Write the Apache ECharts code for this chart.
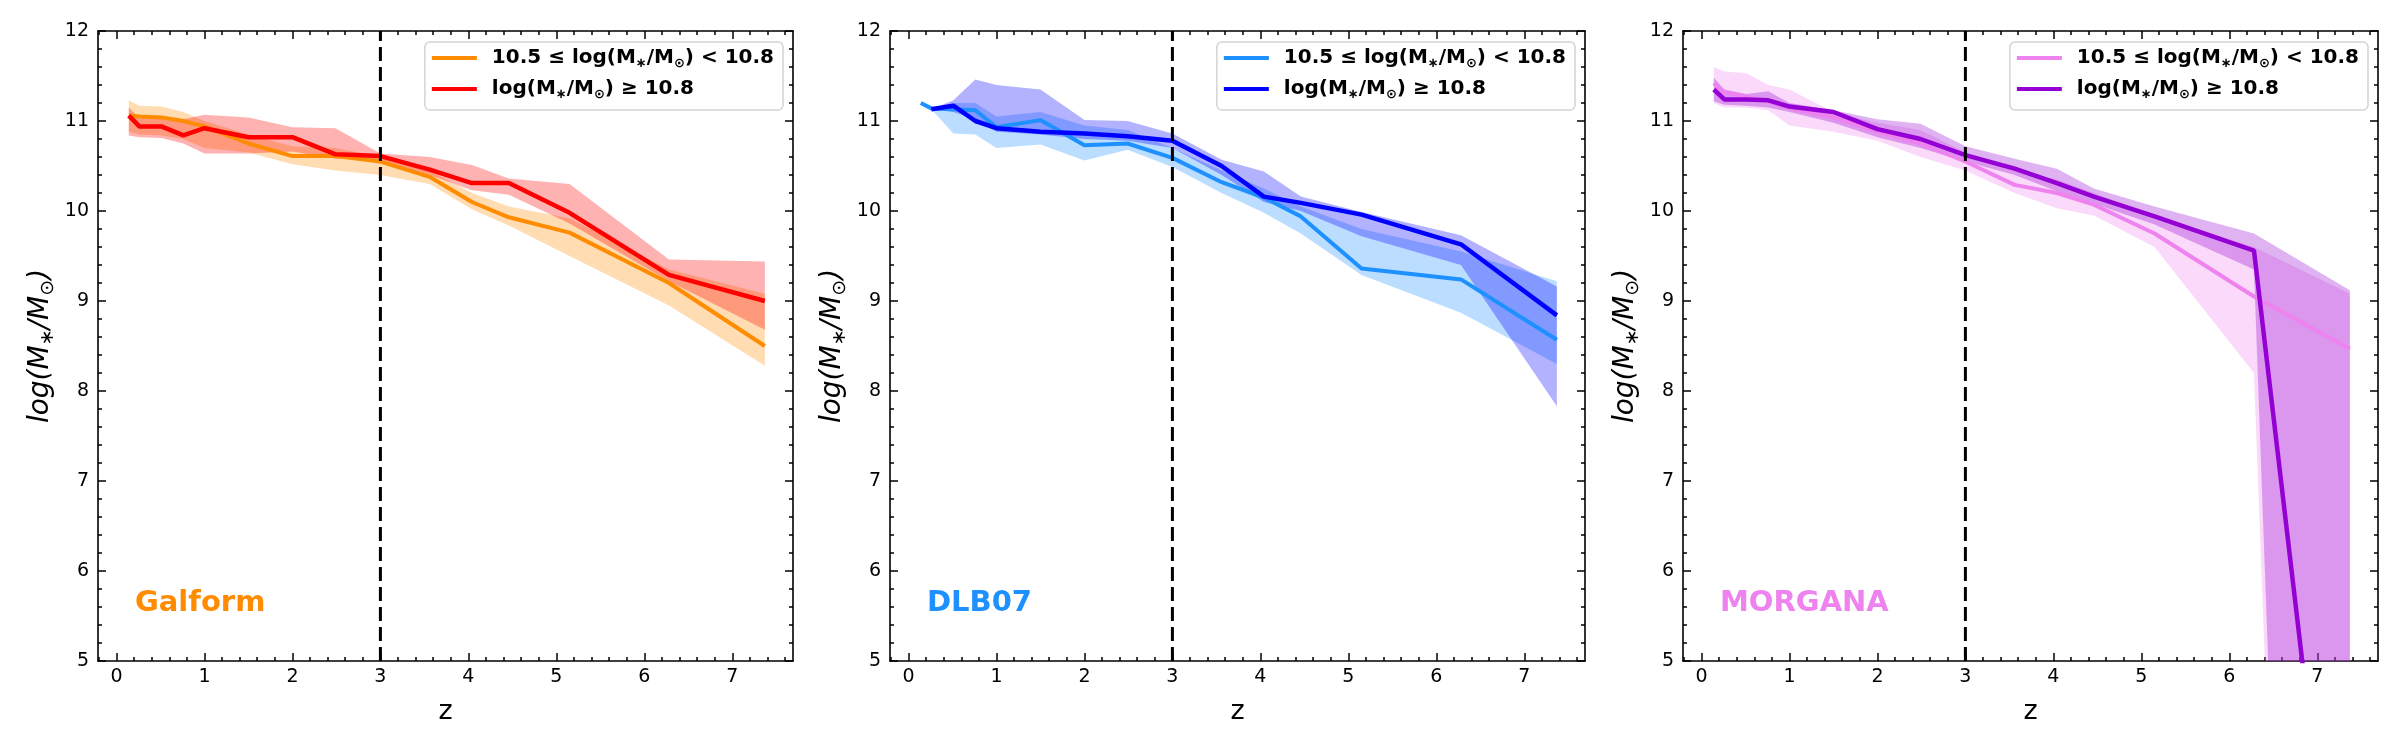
<!DOCTYPE html>
<html>
<head>
<meta charset="utf-8">
<script src="https://cdn.jsdelivr.net/npm/echarts@6/dist/echarts.min.js"></script>
<style>
  html, body { margin: 0; padding: 0; background: #fff; }
  #chart { width: 2400px; height: 750px; }
</style>
</head>
<body>
<div id="chart"></div>
<script>
// redshift snapshots shared by the three models
const Z = [0.14, 0.26, 0.51, 0.76, 1.0, 1.5, 2.0, 2.49, 3.0, 3.56, 4.04, 4.46, 5.15, 6.28, 7.37];

// Galform
const galformMid = [11.06, 11.05, 11.04, 11.0, 10.94, 10.75, 10.61, 10.61, 10.55, 10.38, 10.1, 9.93, 9.76, 9.2, 8.5];
const galformMidHi = [11.23, 11.17, 11.16, 11.1, 11.0, 10.85, 10.72, 10.7, 10.6, 10.45, 10.2, 10.05, 9.92, 9.35, 9.08];
const galformMidLo = [10.88, 10.85, 10.84, 10.8, 10.7, 10.65, 10.52, 10.45, 10.4, 10.3, 10.02, 9.84, 9.5, 8.95, 8.28];
const galformHigh = [11.06, 10.94, 10.94, 10.84, 10.92, 10.82, 10.82, 10.63, 10.61, 10.46, 10.31, 10.31, 9.98, 9.29, 9.0];
const galformHighHi = [11.15, 11.03, 11.03, 11.02, 11.07, 11.04, 10.93, 10.92, 10.64, 10.6, 10.51, 10.36, 10.3, 9.46, 9.44];
const galformHighLo = [10.84, 10.82, 10.81, 10.75, 10.64, 10.64, 10.66, 10.58, 10.57, 10.4, 10.23, 10.18, 9.86, 9.22, 8.68];

// DLB07
const dlbMid = [11.2, 11.14, 11.13, 11.12, 10.93, 11.01, 10.73, 10.75, 10.59, 10.32, 10.15, 9.94, 9.36, 9.24, 8.57];
const dlbMidHi = [null, 11.14, 11.2, 11.2, 11.05, 11.1, 10.95, 10.9, 10.7, 10.45, 10.25, 10.05, 9.8, 9.55, 9.22];
const dlbMidLo = [null, 11.13, 10.86, 10.85, 10.7, 10.74, 10.56, 10.68, 10.49, 10.2, 9.98, 9.75, 9.29, 8.87, 8.3];
const dlbHigh = [null, 11.13, 11.17, 11.0, 10.92, 10.88, 10.86, 10.83, 10.78, 10.5, 10.16, 10.09, 9.96, 9.63, 8.84];
const dlbHighHi = [null, 11.13, 11.23, 11.46, 11.4, 11.35, 11.01, 11.0, 10.86, 10.57, 10.44, 10.16, 9.99, 9.73, 9.16];
const dlbHighLo = [null, 11.13, 11.1, 11.02, 10.88, 10.85, 10.8, 10.78, 10.7, 10.4, 10.1, 10.0, 9.72, 9.4, 7.83];

// MORGANA
const morganaMid = [11.42, 11.32, 11.27, 11.22, 11.14, 11.04, 10.88, 10.75, 10.55, 10.29, 10.2, 10.07, 9.75, 9.05, 8.47];
const morganaMidHi = [11.6, 11.55, 11.53, 11.4, 11.35, 11.1, 10.98, 10.9, 10.65, 10.45, 10.35, 10.2, 9.95, 9.6, 9.08];
const morganaMidLo = [11.2, 11.15, 11.15, 11.12, 10.95, 10.88, 10.78, 10.6, 10.45, 10.2, 10.03, 9.95, 9.6, 8.2, -20];
const morganaHigh = [11.35, 11.24, 11.24, 11.23, 11.16, 11.1, 10.91, 10.8, 10.62, 10.47, 10.31, 10.16, 9.94, 9.56, 0.5];
const morganaHighHi = [11.48, 11.35, 11.3, 11.33, 11.2, 11.12, 11.02, 10.97, 10.72, 10.58, 10.47, 10.25, 10.05, 9.75, 9.12];
const morganaHighLo = [11.22, 11.18, 11.17, 11.15, 11.1, 10.98, 10.82, 10.7, 10.55, 10.4, 10.22, 10.08, 9.85, 9.35, -20];

const zCut = [[3, 5], [3, 12]];
const xTicks = [0, 1, 2, 3, 4, 5, 6, 7];
const X_MIN = -0.21, X_MAX = 7.69;
const Y_MIN = 5, Y_MAX = 12;

const LABEL_MID = '10.5 ≤ log(M∗/M⊙) < 10.8';
const LABEL_HIGH = 'log(M∗/M⊙) ≥ 10.8';
const FONT = 'DejaVu Sans';

const panels = [
  { title: 'Galform', cMid: '#ff8c00', cHigh: '#ff0000', mid: galformMid, midHi: galformMidHi, midLo: galformMidLo, high: galformHigh, highHi: galformHighHi, highLo: galformHighLo },
  { title: 'DLB07', cMid: '#1e90ff', cHigh: '#0000ff', mid: dlbMid, midHi: dlbMidHi, midLo: dlbMidLo, high: dlbHigh, highHi: dlbHighHi, highLo: dlbHighLo },
  { title: 'MORGANA', cMid: '#ee82ee', cHigh: '#9400d3', mid: morganaMid, midHi: morganaMidHi, midLo: morganaMidLo, high: morganaHigh, highHi: morganaHighHi, highLo: morganaHighLo }
];
const gridLefts = [98, 890, 1683];
const GRID_TOP = 31, GRID_W = 695, GRID_H = 630;

const minorX = [];
for (let k = -1; k <= 38; k++) {
  const v = Math.round(k * 2) / 10;
  if (k % 5 !== 0 && v > X_MIN && v < X_MAX) minorX.push(v);
}

const pairs = (vals) => Z.map((z, i) => [z, vals[i]]).filter(p => p[1] !== null);

function band(gi, lo, hi, color) {
  return {
    type: 'custom', xAxisIndex: gi * 4, yAxisIndex: gi * 2, clip: true, silent: true, z: 1,
    data: [[Z[0], Y_MIN]],
    renderItem: (params, api) => {
      const pts = [];
      for (let i = 0; i < Z.length; i++) if (hi[i] !== null) pts.push(api.coord([Z[i], hi[i]]));
      for (let i = Z.length - 1; i >= 0; i--) if (lo[i] !== null) pts.push(api.coord([Z[i], lo[i]]));
      return { type: 'polygon', shape: { points: pts }, style: { fill: color, opacity: 0.3 } };
    }
  };
}

const richText = {
  b: { fontSize: 20, fontWeight: 'bold', fontFamily: FONT, color: '#000', lineHeight: 24 },
  s: { fontSize: 13, fontWeight: 'bold', fontFamily: FONT, color: '#000', lineHeight: 24, verticalAlign: 'bottom' }
};
const legendRich = (name) => name.startsWith('10.5')
  ? '{b|10.5 ≤ log(M}{s|∗}{b|/M}{s|⊙}{b|) < 10.8}'
  : '{b|log(M}{s|∗}{b|/M}{s|⊙}{b|) ≥ 10.8}';

const grid = [], xAxis = [], yAxis = [], series = [], legend = [], graphic = [];
const tickStyle = { color: '#000', width: 1.5 };

panels.forEach((p, gi) => {
  grid.push({ left: gridLefts[gi], top: GRID_TOP, width: GRID_W, height: GRID_H });
  const xBase = { type: 'value', gridIndex: gi, min: X_MIN, max: X_MAX, splitLine: { show: false } };
  xAxis.push(Object.assign({}, xBase, {
    position: 'bottom',
    name: 'z', nameLocation: 'middle', nameGap: 37,
    nameTextStyle: { fontSize: 27, fontFamily: FONT, color: '#000' },
    axisLine: { show: true, onZero: false, lineStyle: { color: '#000', width: 1.6 } },
    axisTick: { show: true, inside: true, length: 8, customValues: xTicks, lineStyle: tickStyle },
    axisLabel: { show: true, customValues: xTicks, margin: 7, fontSize: 19, fontFamily: FONT, color: '#000' }
  }));
  xAxis.push(Object.assign({}, xBase, {
    position: 'bottom',
    axisLine: { show: false, onZero: false },
    axisTick: { show: true, inside: true, length: 4, customValues: minorX, lineStyle: tickStyle },
    axisLabel: { show: false }
  }));
  xAxis.push(Object.assign({}, xBase, {
    position: 'top',
    axisLine: { show: true, onZero: false, lineStyle: { color: '#000', width: 1.6 } },
    axisTick: { show: true, inside: true, length: 8, customValues: xTicks, lineStyle: tickStyle },
    axisLabel: { show: false }
  }));
  xAxis.push(Object.assign({}, xBase, {
    position: 'top',
    axisLine: { show: false, onZero: false },
    axisTick: { show: true, inside: true, length: 4, customValues: minorX, lineStyle: tickStyle },
    axisLabel: { show: false }
  }));
  const yBase = {
    type: 'value', gridIndex: gi, min: Y_MIN, max: Y_MAX, interval: 1, splitLine: { show: false },
    axisLine: { show: true, onZero: false, lineStyle: { color: '#000', width: 1.6 } },
    axisTick: { show: true, inside: true, length: 8, lineStyle: tickStyle },
    minorTick: { show: true, splitNumber: 5, length: 4, lineStyle: tickStyle },
    minorSplitLine: { show: false }
  };
  yAxis.push(Object.assign({}, yBase, {
    position: 'left',
    name: '{i|log(M}{s|∗}{i|/M}{s|⊙}{i|)}', nameLocation: 'middle', nameGap: 40,
    nameTextStyle: {
      rich: {
        i: { fontSize: 28, fontStyle: 'italic', fontFamily: FONT, color: '#000', lineHeight: 34 },
        s: { fontSize: 19, fontStyle: 'italic', fontFamily: FONT, color: '#000', lineHeight: 34, verticalAlign: 'bottom' }
      }
    },
    axisLabel: { show: true, margin: 9, fontSize: 19, fontFamily: FONT, color: '#000', showMinLabel: true, showMaxLabel: true }
  }));
  yAxis.push(Object.assign({}, yBase, { position: 'right', axisLabel: { show: false } }));

  const zw = '\u200b'.repeat(gi);
  const nMid = LABEL_MID + zw, nHigh = LABEL_HIGH + zw;
  series.push(band(gi, p.midLo, p.midHi, p.cMid));
  series.push(band(gi, p.highLo, p.highHi, p.cHigh));
  series.push({
    name: nMid, type: 'line', xAxisIndex: gi * 4, yAxisIndex: gi * 2, data: pairs(p.mid),
    color: p.cMid, showSymbol: false, symbol: 'none', z: 3, lineStyle: { width: 4, color: p.cMid }
  });
  series.push({
    name: nHigh, type: 'line', xAxisIndex: gi * 4, yAxisIndex: gi * 2, data: pairs(p.high),
    color: p.cHigh, showSymbol: false, symbol: 'none', z: 4, lineStyle: { width: 4.5, color: p.cHigh }
  });
  series.push({
    type: 'line', xAxisIndex: gi * 4, yAxisIndex: gi * 2, data: zCut, silent: true,
    showSymbol: false, symbol: 'none', z: 5, lineStyle: { width: 3, color: '#000', type: [14, 6] }
  });

  legend.push({
    data: [nMid, nHigh], orient: 'vertical', align: 'left',
    right: 2400 - (gridLefts[gi] + GRID_W) + 10, top: 42,
    icon: 'rect', itemWidth: 45, itemHeight: 4, itemGap: 9,
    padding: [6, 9, 9, 7],
    backgroundColor: 'rgba(255,255,255,0.8)', borderColor: '#d4d4d4', borderWidth: 1.5, borderRadius: 5,
    selectedMode: false,
    formatter: legendRich,
    textStyle: { padding: [0, 0, 0, 10], rich: richText }
  });

  graphic.push({
    type: 'text', left: gridLefts[gi] + 37, top: 589, z: 10,
    style: { text: p.title, fill: p.cMid, fontSize: 29, fontWeight: 'bold', fontFamily: FONT }
  });
});

const chart = echarts.init(document.getElementById('chart'), null, { renderer: 'canvas' });
chart.setOption({
  backgroundColor: '#fff',
  animation: false,
  grid, xAxis, yAxis, series, legend, graphic
});
</script>
</body>
</html>
